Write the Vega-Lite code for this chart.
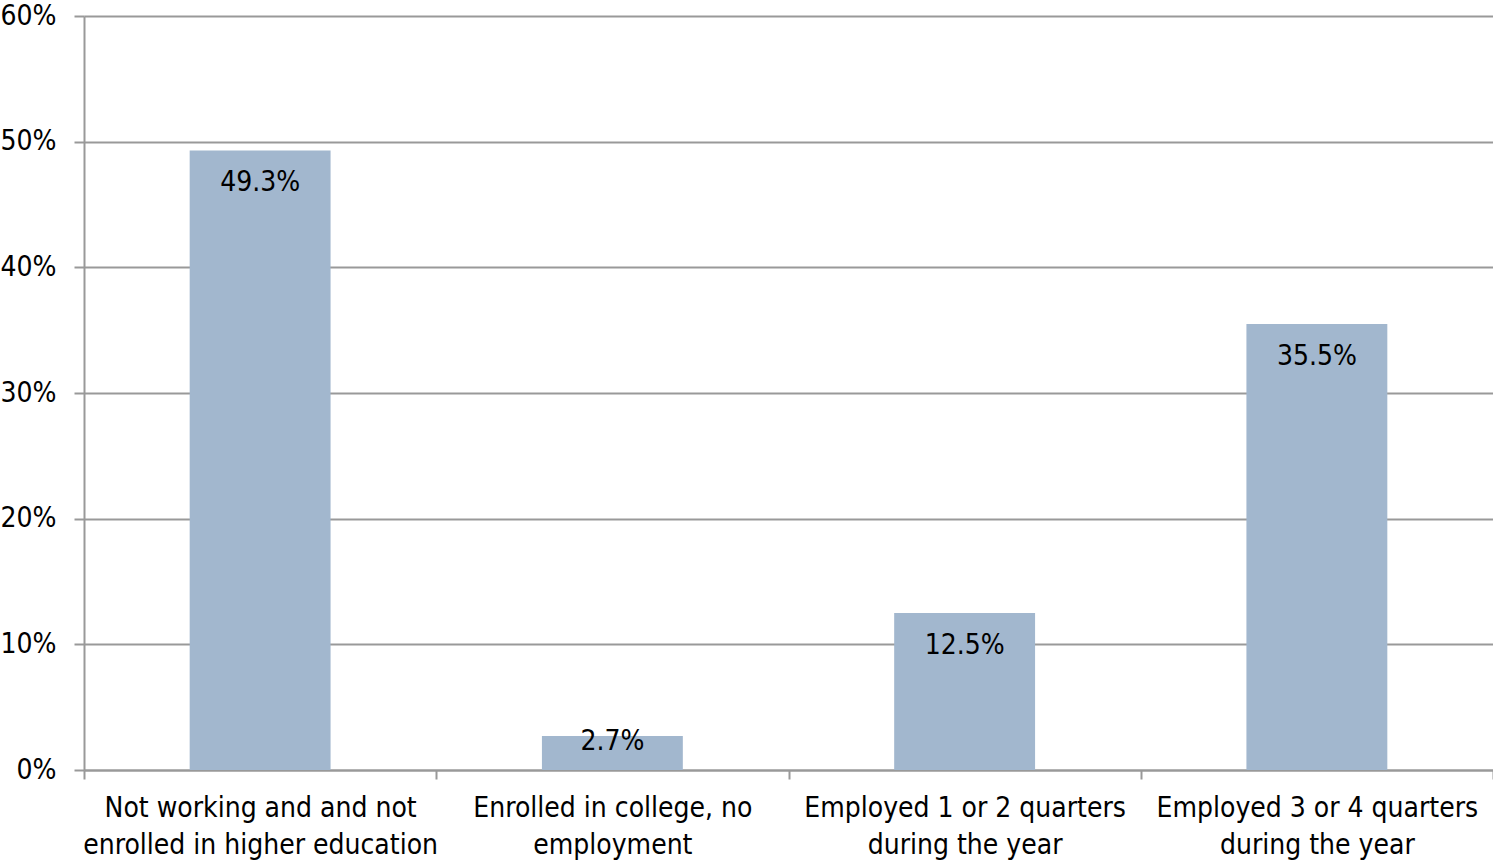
{
  "$schema": "https://vega.github.io/schema/vega-lite/v6.json",
  "autosize": "none",
  "width": 1409,
  "height": 754,
  "padding": {"left": 84, "top": 16, "right": 0, "bottom": 92},
  "background": "white",
  "config": {
    "font": "Liberation Sans Narrow, Arial Narrow, DejaVu Sans Condensed, sans-serif",
    "view": {"stroke": null}
  },
  "data": {
    "values": [
      {"group": "Not working and and not\nenrolled in higher education", "share": 0.493},
      {"group": "Enrolled in college, no\nemployment", "share": 0.027},
      {"group": "Employed 1 or 2 quarters\nduring the year", "share": 0.125},
      {"group": "Employed 3 or 4 quarters\nduring the year", "share": 0.355}
    ]
  },
  "encoding": {
    "x": {
      "field": "group",
      "type": "nominal",
      "sort": null,
      "title": null,
      "scale": {"paddingInner": 0, "paddingOuter": 0},
      "axis": {
        "labelAngle": 0,
        "labelExpr": "split(datum.label, '\\n')",
        "labelFontSize": 28,
        "labelColor": "#000000",
        "labelLineHeight": 37,
        "labelBaseline": "top",
        "labelPadding": 15,
        "labelLimit": 400,
        "domainColor": "#999999",
        "domainWidth": 2,
        "tickColor": "#999999",
        "tickWidth": 2,
        "tickSize": 9,
        "tickBand": "extent",
        "tickExtra": true,
        "grid": false
      }
    },
    "y": {
      "field": "share",
      "type": "quantitative",
      "title": null,
      "scale": {"domain": [0, 0.6], "nice": false},
      "axis": {
        "values": [0, 0.1, 0.2, 0.3, 0.4, 0.5, 0.6],
        "format": ".0%",
        "labelFontSize": 28,
        "labelColor": "#000000",
        "labelPadding": 18,
        "domainColor": "#999999",
        "domainWidth": 2,
        "tickColor": "#999999",
        "tickWidth": 2,
        "tickSize": 10,
        "grid": true,
        "gridColor": "#999999",
        "gridWidth": 2
      }
    }
  },
  "layer": [
    {"mark": {"type": "bar", "color": "#a2b7ce", "width": {"band": 0.4}}},
    {
      "transform": [{"filter": "datum.share >= 0.05"}],
      "mark": {"type": "text", "fontSize": 28, "baseline": "middle", "dy": 33, "color": "#000000"},
      "encoding": {"text": {"field": "share", "type": "quantitative", "format": ".1%"}}
    },
    {
      "transform": [{"filter": "datum.share < 0.05"}],
      "mark": {"type": "text", "fontSize": 28, "baseline": "middle", "dy": 6, "color": "#000000"},
      "encoding": {"text": {"field": "share", "type": "quantitative", "format": ".1%"}}
    }
  ]
}
